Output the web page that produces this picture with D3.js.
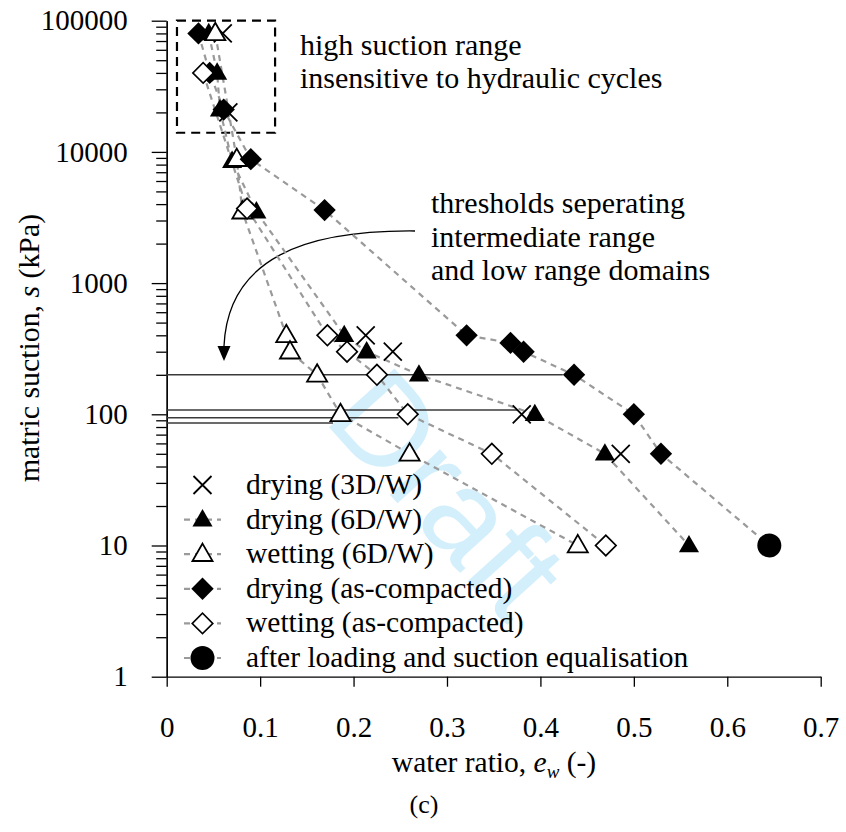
<!DOCTYPE html>
<html><head><meta charset="utf-8">
<script src="https://cdn.jsdelivr.net/npm/d3@7"></script>
<style>
body{margin:0;background:#fff}
svg{display:block}
</style>
</head><body><svg id="c" width="846" height="832"></svg>
<script>
// ---- data ----
const xTicks = [0, 0.1, 0.2, 0.3, 0.4, 0.5, 0.6, 0.7];
const yTicks = [1, 10, 100, 1000, 10000, 100000];

const drying3DW_ew = [0.060, 0.066, 0.213, 0.242, 0.380, 0.486];
const drying3DW_s  = [80000, 20000, 400, 300, 100, 50];

const drying6DW_ew = [0.045, 0.054, 0.057, 0.070, 0.096, 0.190, 0.214, 0.270, 0.394, 0.469, 0.559];
const drying6DW_s  = [80000, 40000, 21000, 8500, 3500, 400, 300, 200, 100, 50, 10];

const wetting6DW_ew = [0.052, 0.075, 0.081, 0.128, 0.132, 0.161, 0.186, 0.260, 0.440];
const wetting6DW_s  = [80000, 8800, 3500, 400, 300, 200, 100, 50, 10];

const dryingAC_ew = [0.034, 0.046, 0.061, 0.090, 0.169, 0.321, 0.368, 0.382, 0.436, 0.500, 0.529];
const dryingAC_s  = [80000, 40000, 21000, 8800, 3600, 400, 350, 300, 200, 100, 50];

const wettingAC_ew = [0.039, 0.086, 0.172, 0.193, 0.225, 0.258, 0.348, 0.470];
const wettingAC_s  = [40000, 3700, 400, 300, 200, 100, 50, 10];

const afterLoad_ew = [0.645];
const afterLoad_s  = [10];

const threshold_s      = [200, 108, 94, 86];
const threshold_ew_end = [0.424, 0.375, 0.248, 0.178];

const legendLabels = ["drying (3D/W)", "drying (6D/W)", "wetting (6D/W)",
  "drying (as-compacted)", "wetting (as-compacted)", "after loading and suction equalisation"];

// ---- setup ----
const SERIF = "'Liberation Serif', Tinos, 'Times New Roman', Times, serif";
const svg = d3.select("#c");
const x = d3.scaleLinear().domain([0, 0.7]).range([166.7, 820.7]);
const y = d3.scaleLog().domain([1, 100000]).range([676.7, 20.7]);
const FS = 29;

// watermark
svg.append("text").text("Draft")
  .attr("transform", "translate(440,500) rotate(48)")
  .attr("text-anchor", "middle").attr("dominant-baseline", "middle")
  .attr("font-family", "'Liberation Sans', Arial, sans-serif")
  .attr("font-size", 128).attr("fill", "#d4effc");

// axes
const gx = svg.append("g").attr("transform", `translate(0,${y(1)})`)
  .call(d3.axisBottom(x).tickValues(xTicks).tickSize(10).tickSizeOuter(0)
    .tickFormat(d => d === 0 ? "0" : d3.format(".1f")(d)));
gx.attr("font-family", SERIF).attr("font-size", FS);
gx.selectAll("text").attr("y", 60).attr("dy", 0).attr("fill", "#000");

const minors = [];
for (let p = 0; p < 5; p++) for (let k = 2; k <= 9; k++) minors.push(k * Math.pow(10, p));
svg.append("g").attr("transform", `translate(${x(0)},0)`)
  .call(d3.axisLeft(y).tickValues(minors).tickSize(10.5).tickSizeOuter(0).tickFormat(""));
const gy = svg.append("g").attr("transform", `translate(${x(0)},0)`)
  .call(d3.axisLeft(y).tickValues(yTicks).tickSize(15).tickSizeOuter(0).tickPadding(24)
    .tickFormat(d3.format("d")));
gy.attr("font-family", SERIF).attr("font-size", FS);
gy.selectAll("text").attr("fill", "#000");
svg.selectAll(".domain, .tick line").attr("stroke", "#000").attr("stroke-width", 1.3);

// axis titles
const xt = svg.append("text").attr("x", 494).attr("y", 772).attr("text-anchor", "middle")
  .attr("font-family", SERIF).attr("font-size", 29.5);
xt.append("tspan").text("water ratio, ");
xt.append("tspan").text("e").attr("font-style", "italic");
xt.append("tspan").text("w").attr("font-style", "italic").attr("font-size", 19).attr("dy", 6);
xt.append("tspan").text(" (-)").attr("dy", -6);

const yt = svg.append("text").attr("transform", "translate(38.5,348) rotate(-90)")
  .attr("text-anchor", "middle").attr("font-family", SERIF).attr("font-size", 29.8);
yt.append("tspan").text("matric suction, ");
yt.append("tspan").text("s").attr("font-style", "italic");
yt.append("tspan").text(" (kPa)");

svg.append("text").attr("x", 424).attr("y", 813).attr("text-anchor", "middle")
  .attr("font-family", SERIF).attr("font-size", 26).text("(c)");

// threshold lines
svg.append("g").selectAll("line").data(threshold_s).join("line")
  .attr("x1", x(0)).attr("x2", (d, i) => x(threshold_ew_end[i]))
  .attr("y1", d => y(d)).attr("y2", d => y(d))
  .attr("stroke", "#3a3a3a").attr("stroke-width", 1.5);

// dashed box
svg.append("rect").attr("x", x(0.011)).attr("y", y(100000))
  .attr("width", x(0.116) - x(0.011)).attr("height", y(14000) - y(100000))
  .attr("fill", "none").attr("stroke", "#000").attr("stroke-width", 2.2)
  .attr("stroke-dasharray", "9,6");

// annotation texts
const ann = [["high suction range", 300, 55], ["insensitive to hydraulic cycles", 300, 88],
  ["thresholds seperating", 431, 213], ["intermediate range", 431, 247], ["and low range domains", 431, 280]];
svg.append("g").selectAll("text").data(ann).join("text")
  .attr("x", d => d[1]).attr("y", d => d[2])
  .attr("font-family", SERIF).attr("font-size", 30).text(d => d[0]);

// curved arrow
svg.append("path").attr("d", "M415,231 C305,230 228,258 224,346")
  .attr("fill", "none").attr("stroke", "#000").attr("stroke-width", 1.3);
svg.append("path").attr("d", "M217.5,346 L230.5,346 L224,361 Z").attr("fill", "#000");

// series lines
const line = d3.line().x(d => x(d[0])).y(d => y(d[1]));
const zip = (a, b) => a.map((v, i) => [v, b[i]]);
const lineSeries = [
  zip(drying6DW_ew, drying6DW_s),
  zip(wetting6DW_ew, wetting6DW_s),
  zip(dryingAC_ew, dryingAC_s).concat(zip(afterLoad_ew, afterLoad_s)),
  zip(wettingAC_ew, wettingAC_s)
];
svg.append("g").selectAll("path").data(lineSeries).join("path")
  .attr("d", line).attr("fill", "none").attr("stroke", "#9a9a9a")
  .attr("stroke-width", 2.2).attr("stroke-dasharray", "6,5");

// marker drawing
const tri = d3.symbol().type(d3.symbolTriangle).size(175)();
const dia = d3.symbol().type(d3.symbolSquare).size(250)();
function marker(g, type) {
  if (type === "cross") {
    g.append("path").attr("d", "M-9,-9L9,9M-9,9L9,-9").attr("stroke", "#000").attr("stroke-width", 1.8);
  } else if (type === "triF") {
    g.append("path").attr("d", tri).attr("transform", "translate(0,1)").attr("fill", "#000");
  } else if (type === "triO") {
    g.append("path").attr("d", tri).attr("transform", "translate(0,1)").attr("fill", "#fff").attr("stroke", "#000").attr("stroke-width", 1.8);
  } else if (type === "diaF") {
    g.append("path").attr("d", dia).attr("transform", "rotate(45)").attr("fill", "#000");
  } else if (type === "diaO") {
    g.append("path").attr("d", dia).attr("transform", "rotate(45) scale(0.92)").attr("fill", "#fff").attr("stroke", "#000").attr("stroke-width", 1.8);
  } else if (type === "circ") {
    g.append("circle").attr("r", 12).attr("fill", "#000");
  }
}
const markerSeries = [
  [drying3DW_ew, drying3DW_s, "cross"],
  [drying6DW_ew, drying6DW_s, "triF"],
  [wetting6DW_ew, wetting6DW_s, "triO"],
  [dryingAC_ew, dryingAC_s, "diaF"],
  [wettingAC_ew, wettingAC_s, "diaO"],
  [afterLoad_ew, afterLoad_s, "circ"]
];
markerSeries.forEach(([ew, s, type]) => {
  ew.forEach((v, i) => {
    const g = svg.append("g").attr("transform", `translate(${x(v)},${y(s[i])})`);
    marker(g, type);
  });
});

// legend
const types = ["cross", "triF", "triO", "diaF", "diaO", "circ"];
legendLabels.forEach((lab, i) => {
  const ry = 485 + i * 34.6;
  if (i > 0) {
    svg.append("line").attr("x1", 184).attr("x2", 221).attr("y1", ry).attr("y2", ry)
      .attr("stroke", "#9a9a9a").attr("stroke-width", 2.2).attr("stroke-dasharray", "6,5");
  }
  const g = svg.append("g").attr("transform", `translate(202.5,${ry})`);
  marker(g, types[i]);
  svg.append("text").attr("x", 246).attr("y", ry + 9)
    .attr("font-family", SERIF).attr("font-size", 29.5).text(lab);
});
</script>
</body></html>
